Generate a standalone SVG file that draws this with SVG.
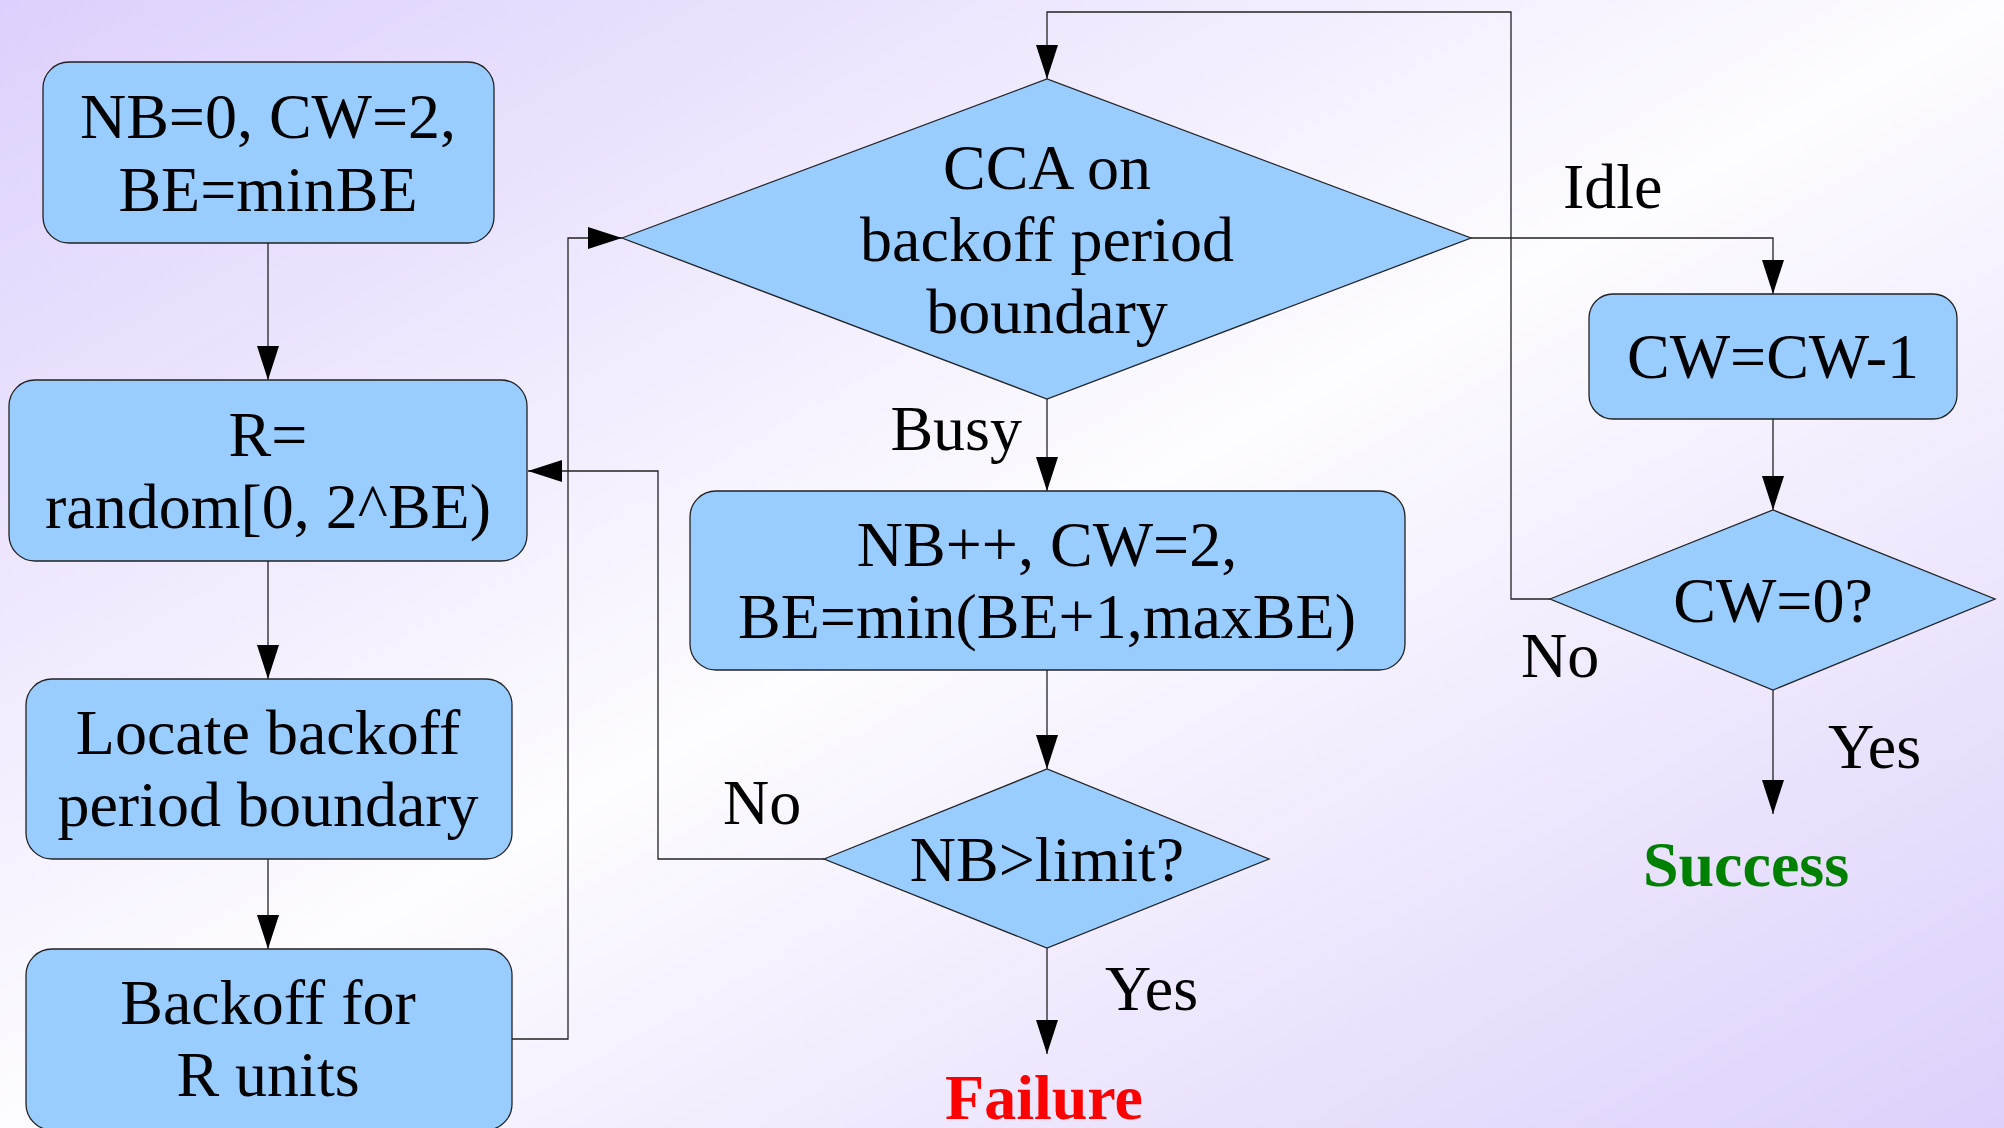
<svg xmlns="http://www.w3.org/2000/svg" width="2004" height="1128" viewBox="0 0 2004 1128">
<defs>
<linearGradient id="bg" x1="0" y1="0" x2="1" y2="1">
<stop offset="0" stop-color="#ddd0fc"/>
<stop offset="0.5" stop-color="#fdfcff"/>
<stop offset="1" stop-color="#ddd0fb"/>
</linearGradient>
<marker id="arr" viewBox="0 0 34 22" refX="34" refY="11" markerWidth="34" markerHeight="22" markerUnits="userSpaceOnUse" orient="auto">
<path d="M0,0 L34,11 L0,22 z" fill="#000"/>
</marker>
<style>
.box{fill:#99ccff;stroke:#222;stroke-width:1.3}
.t{font-family:"Liberation Serif","Times New Roman",serif;font-size:64px;fill:#000;text-anchor:middle}
.lbl{font-family:"Liberation Serif","Times New Roman",serif;font-size:64px;fill:#000}
.c{fill:none;stroke:#222;stroke-width:1.3}
.ca{fill:none;stroke:#222;stroke-width:1.3;marker-end:url(#arr)}
</style>
</defs>
<rect x="0" y="0" width="2004" height="1128" fill="url(#bg)"/>
<g id="connectors">
<path class="ca" d="M268,243 V380"/>
<path class="ca" d="M268,561 V679"/>
<path class="ca" d="M268,859 V949"/>
<path class="ca" d="M512,1039 H568 V238 H622"/>
<path class="ca" d="M1047,399 V491"/>
<path class="ca" d="M1047,670 V769"/>
<path class="ca" d="M824,859 H658 V471 H528"/>
<path class="ca" d="M1047,948 V1054"/>
<path class="ca" d="M1471,238 H1773 V294"/>
<path class="ca" d="M1773,419 V510"/>
<path class="ca" d="M1773,690 V814"/>
<path class="ca" d="M1550,599 H1511 V12 H1047 V79"/>
<text class="lbl" x="1022" y="450" text-anchor="end">Busy</text>
<text class="lbl" x="1563" y="208">Idle</text>
<text class="lbl" x="723" y="824">No</text>
<text class="lbl" x="1105" y="1010">Yes</text>
<text class="lbl" x="1521" y="677">No</text>
<text class="lbl" x="1828" y="768">Yes</text>
</g>
<g id="init">
<rect class="box" x="43" y="62" width="451" height="181" rx="26"/>
<text class="t" x="268" y="138">NB=0, CW=2,</text>
<text class="t" x="268" y="211">BE=minBE</text>
</g>
<g id="random">
<rect class="box" x="9" y="380" width="518" height="181" rx="26"/>
<text class="t" x="268" y="456">R=</text>
<text class="t" x="268" y="528">random[0, 2^BE)</text>
</g>
<g id="locate">
<rect class="box" x="26" y="679" width="486" height="180" rx="26"/>
<text class="t" x="268" y="754">Locate backoff</text>
<text class="t" x="268" y="826">period boundary</text>
</g>
<g id="backoff">
<rect class="box" x="26" y="949" width="486" height="181" rx="26"/>
<text class="t" x="268" y="1024">Backoff for</text>
<text class="t" x="268" y="1096">R units</text>
</g>
<g id="cca">
<polygon class="box" points="622,238 1047,79 1471,238 1047,399"/>
<text class="t" x="1047" y="189">CCA on</text>
<text class="t" x="1047" y="261">backoff period</text>
<text class="t" x="1047" y="333">boundary</text>
</g>
<g id="nbinc">
<rect class="box" x="690" y="491" width="715" height="179" rx="26"/>
<text class="t" x="1047" y="566">NB++, CW=2,</text>
<text class="t" x="1047" y="638">BE=min(BE+1,maxBE)</text>
</g>
<g id="nblimit">
<polygon class="box" points="824,859 1047,769 1269,859 1047,948"/>
<text class="t" x="1047" y="881">NB&gt;limit?</text>
</g>
<g id="failure">
<text class="t" x="1044" y="1119" style="font-weight:bold;fill:#ff0000">Failure</text>
</g>
<g id="cwdec">
<rect class="box" x="1589" y="294" width="368" height="125" rx="24"/>
<text class="t" x="1773" y="378">CW=CW-1</text>
</g>
<g id="cwzero">
<polygon class="box" points="1550,599 1773,510 1995,599 1773,690"/>
<text class="t" x="1773" y="622">CW=0?</text>
</g>
<g id="success">
<text class="t" x="1746" y="886" style="font-weight:bold;fill:#008000">Success</text>
</g>
</svg>
